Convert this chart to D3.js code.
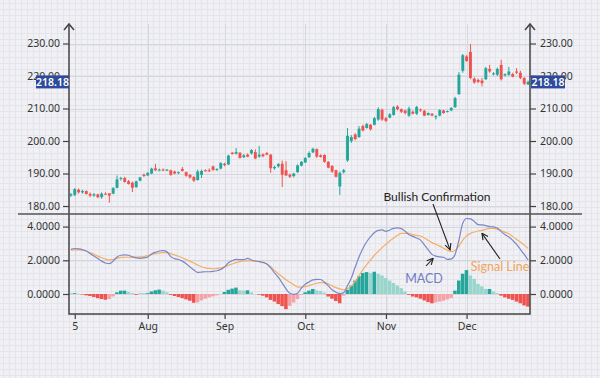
<!DOCTYPE html>
<html>
<head>
<meta charset="utf-8">
<script src="https://cdn.jsdelivr.net/npm/d3@7"></script>
<style>
  body { margin: 0; background: #f1f1f5; }
  svg { display: block; font-family: "Noto Sans", sans-serif; }
</style>
</head>
<body>
<script>
// daily candles, Jul -> Dec
var opens = [
  183.2,183.4,185,184.2,184.6,183.7,183.2,183.6,182.7,183.8,
  183.9,183.8,185.6,188.4,188.6,187.6,187.2,185.8,187.8,189.6,
  189.4,190,191.6,191,191.2,191.1,191,190.6,190.2,191.4,
  190.4,189.6,188.9,188,189.6,191,191,192.2,191.2,191.5,
  193,192.8,196.4,196.1,196.4,195,195.8,196.2,196.6,195.2,
  195.9,196.3,195.8,191.6,192.2,193,191,189.6,189.2,190.4,
  192.4,193.4,195,196.5,197.5,195.6,195.7,193.6,192.3,191,
  186,190.4,194,200,202,201.2,204.6,204,205,205,
  206.6,209.6,207,207.2,208,210.6,209.8,209.4,207.8,209,
  208.4,209.7,209.3,208,208.4,207.4,207.8,209.4,209,209.4,
  210.4,214.4,221.6,226,227.4,219.2,218.8,218.6,219,222.2,
  220.6,220.4,223.4,220.2,220.4,220.6,221.4,221,219.4,217.4
];
var highs = [
  184,185.5,185.4,185,184.8,184.2,184,183.8,184.2,184.2,
  184,185.8,189.4,189,189,188,187.5,187.8,189,190,
  190.4,191.8,193,191.5,191.6,191.4,191.2,190.9,190.6,192,
  190.6,189.8,189.2,191.2,191.2,191.3,191.6,192.4,191.6,193.5,
  193.3,195.8,196.6,197.8,196.6,196,196.2,197.5,197.4,198.5,
  196.2,196.6,196,192.4,193.2,194,193.8,190,190.2,192.8,
  193.8,195,196.8,197.9,197.7,195.9,195.9,193.8,192.6,191.2,
  190.6,191.4,204,201.8,202.4,204.6,205,205.6,205.2,207.4,
  210.4,210,207.4,208.6,210.8,211,210,209.6,210.6,209.4,
  210.8,210,209.6,208.8,208.6,208,209.8,209.6,209.4,210.4,
  213.6,221.2,226.8,226.4,229.8,219.6,219.2,219.4,222.8,223.4,
  221.2,222.6,225,220.8,222.8,221,222.4,221.6,219.6,218.6
];
var lows = [
  182.8,183,183.8,183.8,183.5,182.7,182.8,182.4,182.2,183.4,
  181,183.6,185.4,187.8,187.2,186.6,184.3,185.6,187.6,189,
  189.2,189.8,190.8,190.7,190.8,190.8,189.3,189.8,189.8,190.6,
  189,188.4,187.4,187.8,188.6,190.6,190.5,190.8,190.8,191.3,
  192.2,192.6,195.8,195.8,194.6,194.8,195,195.8,194.4,194.8,
  195,195.6,190.2,191.2,191.8,185.8,189.2,188.6,188.8,190.2,
  192.2,193.2,194.8,196.3,194.8,194.9,193.3,191.6,190.2,188.8,
  183.4,190,193.6,199.4,200.2,201,203,203.8,203.2,204.8,
  206.2,206.2,205.8,207,207.8,209.4,208.6,208.2,207.4,208.2,
  208,209,207.6,207.8,207.6,206.6,207.6,208.4,208.8,209.2,
  210.2,214.2,221,224.4,219,217.6,217.8,216.8,218.8,221,
  220.2,220,218.6,219.8,220,219.6,220.6,219,217.2,217.2
];
var closes = [
  183.6,185.2,184.2,184.6,183.7,183.2,183.6,182.7,183.8,183.6,
  183.2,185.5,188.2,188.6,187.4,186.8,185.6,187.6,188.8,189.2,
  190.2,191.5,191,191.2,191,191.2,189.6,190,190.4,190.8,
  189.3,188.8,187.8,190.6,190.8,190.8,190.8,191.1,191.4,193.2,
  192.6,195.5,196,196.6,194.8,195.6,195.2,197.2,194.6,195.8,
  195.3,195.8,191.6,192,192.9,189.6,189.4,189,190,192.5,
  193.6,194.8,196.3,197.6,195.2,195.1,193.6,191.8,190.6,189,
  190.2,191,201.6,201.2,200.6,203.8,203.2,205.2,203.6,207,
  209.8,206.6,206.2,208.2,210.4,209.8,209,208.6,210,208.4,
  210.5,209.4,207.8,208.6,207.8,207.6,209.5,208.6,209.2,210.2,
  213.2,220.4,226.4,224.6,219.4,218,218.2,217.8,222.4,221.4,
  220.8,222.2,219,220.6,221.4,219.8,221,219.4,217.6,218.18
];

var macd = [
  2.65,2.70,2.68,2.63,2.55,2.40,2.25,2.10,1.95,1.84,
  1.80,1.95,2.20,2.30,2.32,2.30,2.20,2.14,2.12,2.14,
  2.20,2.38,2.48,2.55,2.57,2.50,2.22,2.10,2.05,1.95,
  1.80,1.60,1.42,1.28,1.30,1.32,1.32,1.34,1.38,1.46,
  1.60,1.85,1.98,2.05,2.04,2.04,2.12,2.02,1.96,1.93,
  1.88,1.78,1.55,1.25,0.98,0.65,0.30,0.04,-0.02,0.05,
  0.35,0.58,0.72,0.84,0.87,0.86,0.70,0.48,0.25,0.10,
  0.02,0.08,0.50,0.95,1.60,2.20,2.70,3.10,3.40,3.65,
  3.78,3.80,3.72,3.80,3.90,3.92,3.88,3.72,3.52,3.42,
  3.32,3.20,2.92,2.62,2.35,2.25,2.20,2.18,2.05,2.08,
  2.35,3.20,4.20,4.48,4.46,4.30,4.12,4.10,4.06,4.00,
  3.98,3.92,3.70,3.52,3.38,3.18,2.95,2.65,2.35,2.02
];
var signal = [
  2.60,2.62,2.62,2.60,2.55,2.45,2.36,2.25,2.15,2.07,
  2.02,2.05,2.12,2.17,2.18,2.18,2.18,2.19,2.20,2.22,
  2.28,2.34,2.40,2.43,2.45,2.45,2.40,2.32,2.24,2.15,
  2.05,1.95,1.84,1.72,1.62,1.55,1.52,1.50,1.52,1.55,
  1.62,1.70,1.78,1.86,1.92,1.96,1.97,1.97,1.95,1.92,
  1.86,1.78,1.62,1.40,1.20,1.02,0.85,0.70,0.55,0.42,
  0.40,0.44,0.50,0.58,0.64,0.67,0.66,0.60,0.48,0.38,
  0.30,0.25,0.32,0.48,0.75,1.10,1.45,1.75,2.02,2.30,
  2.52,2.75,2.95,3.15,3.32,3.48,3.60,3.60,3.60,3.52,
  3.48,3.44,3.32,3.18,3.05,2.95,2.84,2.72,2.60,2.52,
  2.58,2.85,3.20,3.45,3.60,3.68,3.74,3.78,3.84,3.90,
  3.90,3.84,3.78,3.66,3.58,3.42,3.24,3.08,2.90,2.71
];
var histogram = [
  0.02,0.05,0.02,-0.03,-0.08,-0.12,-0.18,-0.25,-0.30,-0.34,
  -0.30,-0.15,0.10,0.20,0.20,0.12,0.06,-0.05,0.02,0.02,
  0.05,0.15,0.22,0.26,0.20,0.10,-0.05,-0.12,-0.18,-0.25,
  -0.32,-0.40,-0.52,-0.50,-0.38,-0.28,-0.20,-0.14,-0.08,0.0,
  0.12,0.25,0.32,0.38,0.22,0.20,0.22,0.10,0.0,-0.04,
  -0.10,-0.20,-0.35,-0.45,-0.60,-0.72,-0.90,-0.70,-0.50,-0.30,
  -0.05,0.10,0.20,0.30,0.22,0.18,0.08,-0.15,-0.28,-0.42,
  -0.55,-0.10,0.25,0.50,0.80,1.05,1.25,1.30,1.25,1.32,
  1.20,1.10,0.95,0.80,0.65,0.50,0.35,0.15,-0.05,-0.15,
  -0.20,-0.28,-0.38,-0.48,-0.55,-0.50,-0.45,-0.40,-0.32,-0.25,
  0.20,0.80,1.20,1.42,1.10,0.90,0.60,0.45,0.30,0.30,
  0.15,0.05,-0.10,-0.20,-0.28,-0.35,-0.45,-0.55,-0.68,-0.75
];

var priceTicks = [180, 190, 200, 210, 220, 230];
var macdTicks = [0, 2, 4];
var monthTickIndex = [1, 20, 40, 61, 82, 103];
var monthTickLabels = ["5", "Aug", "Sep", "Oct", "Nov", "Dec"];
var lastPrice = 218.18;

var width = 600, height = 378;
var plotLeft = 69, plotRight = 530;
var axisTop = 24, paneSplit = 214, plotBottom = 314;

var green = "#26a69a", red = "#ef5350";
var greenLight = "#98d5cc", redLight = "#f5a3a6";

var svg = d3.select("body").append("svg")
    .attr("width", width)
    .attr("height", height);

svg.append("rect")
    .attr("width", width)
    .attr("height", height)
    .attr("fill", "#f1f1f5");

// graph-paper grid
var fine = svg.append("g").attr("stroke", "#e4e4eb").attr("stroke-width", 1);
fine.selectAll(".gv").data(d3.range(3.5, width, 6)).enter().append("line")
    .attr("x1", d => d).attr("x2", d => d).attr("y1", 0).attr("y2", height);
fine.selectAll(".gh").data(d3.range(3.5, height, 6)).enter().append("line")
    .attr("y1", d => d).attr("y2", d => d).attr("x1", 0).attr("x2", width);

var x = d3.scaleLinear()
    .domain([-0.5, closes.length - 0.5])
    .range([plotLeft, plotRight]);
var step = x(1) - x(0);

var yPrice = d3.scaleLinear().domain([180, 230]).range([206, 43.5]);
var yMacd = d3.scaleLinear().domain([0, 4]).range([294, 226.6]);

// major grid
var major = svg.append("g").attr("stroke", "#d6d6df").attr("stroke-width", 1);
major.selectAll(".mx").data(monthTickIndex).enter().append("line")
    .attr("x1", d => Math.round(x(d)) + 0.5).attr("x2", d => Math.round(x(d)) + 0.5)
    .attr("y1", axisTop).attr("y2", plotBottom);
major.selectAll(".mp").data(priceTicks).enter().append("line")
    .attr("y1", d => Math.round(yPrice(d)) + 0.5).attr("y2", d => Math.round(yPrice(d)) + 0.5)
    .attr("x1", plotLeft).attr("x2", plotRight);
major.selectAll(".mm").data(macdTicks).enter().append("line")
    .attr("y1", d => Math.round(yMacd(d)) + 0.5).attr("y2", d => Math.round(yMacd(d)) + 0.5)
    .attr("x1", plotLeft).attr("x2", plotRight);

// candles
var idx = d3.range(closes.length);
var candles = svg.append("g");
candles.selectAll(".wick").data(idx).enter().append("line")
    .attr("x1", i => x(i)).attr("x2", i => x(i))
    .attr("y1", i => yPrice(highs[i])).attr("y2", i => yPrice(lows[i]))
    .attr("stroke", i => closes[i] >= opens[i] ? green : red)
    .attr("stroke-width", 1);
candles.selectAll(".body").data(idx).enter().append("rect")
    .attr("x", i => x(i) - step * 0.38)
    .attr("width", step * 0.76)
    .attr("y", i => yPrice(Math.max(opens[i], closes[i])))
    .attr("height", i => Math.max(1, Math.abs(yPrice(opens[i]) - yPrice(closes[i]))))
    .attr("fill", i => closes[i] >= opens[i] ? green : red);

// histogram
var histColor = function (i) {
  var v = histogram[i], prev = i > 0 ? histogram[i - 1] : 0;
  if (v >= 0) return v >= prev ? green : greenLight;
  return v <= prev ? red : redLight;
};
svg.append("g").selectAll("rect").data(idx).enter().append("rect")
    .attr("x", i => x(i) - step * 0.5)
    .attr("width", step * 0.92)
    .attr("y", i => yMacd(Math.max(0, histogram[i])))
    .attr("height", i => Math.abs(yMacd(histogram[i]) - yMacd(0)))
    .attr("fill", histColor);

// macd + signal lines
var line = function (arr) {
  return d3.line().x(i => x(i)).y(i => yMacd(arr[i])).curve(d3.curveMonotoneX)(idx);
};
svg.append("path").attr("d", line(signal))
    .attr("fill", "none").attr("stroke", "#f4ae66").attr("stroke-width", 1.2);
svg.append("path").attr("d", line(macd))
    .attr("fill", "none").attr("stroke", "#7c87c7").attr("stroke-width", 1.2);

// axes
var axisStyle = function (g) {
  g.select(".domain").remove();
  g.selectAll(".tick line").attr("stroke", "#444").attr("stroke-width", 1.2);
  g.selectAll(".tick text").attr("fill", "#333").style("font-size", "10.5px")
      .style("font-family", "'Noto Sans', sans-serif");
};
svg.append("g").attr("transform", "translate(" + plotLeft + ",0)")
    .call(d3.axisLeft(yPrice).tickValues(priceTicks).tickFormat(d3.format(".2f")).tickSize(6).tickPadding(3))
    .call(axisStyle);
svg.append("g").attr("transform", "translate(" + plotRight + ",0)")
    .call(d3.axisRight(yPrice).tickValues(priceTicks).tickFormat(d3.format(".2f")).tickSize(6).tickPadding(4))
    .call(axisStyle);
svg.append("g").attr("transform", "translate(" + plotLeft + ",0)")
    .call(d3.axisLeft(yMacd).tickValues(macdTicks).tickFormat(d3.format(".4f")).tickSize(6).tickPadding(3))
    .call(axisStyle);
svg.append("g").attr("transform", "translate(" + plotRight + ",0)")
    .call(d3.axisRight(yMacd).tickValues(macdTicks).tickFormat(d3.format(".4f")).tickSize(6).tickPadding(4))
    .call(axisStyle);
svg.append("g").attr("transform", "translate(0," + plotBottom + ")")
    .call(d3.axisBottom(x).tickValues(monthTickIndex).tickFormat((d, i) => monthTickLabels[i]).tickSize(5).tickPadding(4))
    .call(axisStyle);

// frame with arrow tops
var frame = svg.append("g").attr("fill", "none").attr("stroke", "#444").attr("stroke-width", 1.5);
frame.append("path").attr("d",
    "M" + plotLeft + "," + axisTop + "V" + plotBottom + "H" + plotRight + "V" + axisTop);
[plotLeft, plotRight].forEach(function (ax) {
  frame.append("path").attr("d", "M" + (ax - 5) + "," + (axisTop + 6) + "L" + ax + "," + axisTop + "L" + (ax + 5) + "," + (axisTop + 6));
});
svg.append("line")
    .attr("x1", 18).attr("x2", 582).attr("y1", paneSplit).attr("y2", paneSplit)
    .attr("stroke", "#555").attr("stroke-width", 1.3);

// last price tags
var tagY = yPrice(lastPrice);
[[plotLeft - 33, plotLeft], [plotRight + 1, plotRight + 35]].forEach(function (r) {
  svg.append("rect").attr("x", r[0]).attr("y", tagY - 6.5)
      .attr("width", r[1] - r[0]).attr("height", 13).attr("fill", "#2d4a9c");
  svg.append("text").attr("x", (r[0] + r[1]) / 2).attr("y", tagY + 4)
      .attr("text-anchor", "middle").attr("fill", "#fff")
      .style("font-size", "10.5px").style("font-weight", "600")
      .text(d3.format(".2f")(lastPrice));
});

// annotations
svg.append("defs").append("marker")
    .attr("id", "arr").attr("viewBox", "0 0 10 10").attr("refX", 9).attr("refY", 5)
    .attr("markerWidth", 7).attr("markerHeight", 7).attr("orient", "auto")
    .append("path").attr("d", "M1,1L9,5L1,9").attr("fill", "none")
    .attr("stroke", "#222").attr("stroke-width", 1.5);

var ann = svg.append("g").style("font-family", "Lato, sans-serif").style("font-size", "12px");
ann.append("text").attr("x", 437).attr("y", 201).attr("text-anchor", "middle")
    .attr("fill", "#222").text("Bullish Confirmation");
ann.append("line").attr("x1", 433).attr("y1", 204).attr("x2", x(98.7)).attr("y2", yMacd(2.62))
    .attr("stroke", "#222").attr("stroke-width", 1.1).attr("marker-end", "url(#arr)");
ann.append("text").attr("x", 424).attr("y", 283).attr("text-anchor", "middle")
    .attr("fill", "#6f7bc2").style("font-size", "12.5px").text("MACD");
ann.append("line").attr("x1", 426).attr("y1", 266).attr("x2", x(94.3)).attr("y2", yMacd(2.12))
    .attr("stroke", "#222").attr("stroke-width", 1.1).attr("marker-end", "url(#arr)");
ann.append("text").attr("x", 500).attr("y", 271).attr("text-anchor", "middle")
    .attr("fill", "#f2a55c").style("font-size", "12.5px").text("Signal Line");
ann.append("line").attr("x1", 500).attr("y1", 259).attr("x2", x(107)).attr("y2", yMacd(3.6))
    .attr("stroke", "#222").attr("stroke-width", 1.1).attr("marker-end", "url(#arr)");
</script>
</body>
</html>
